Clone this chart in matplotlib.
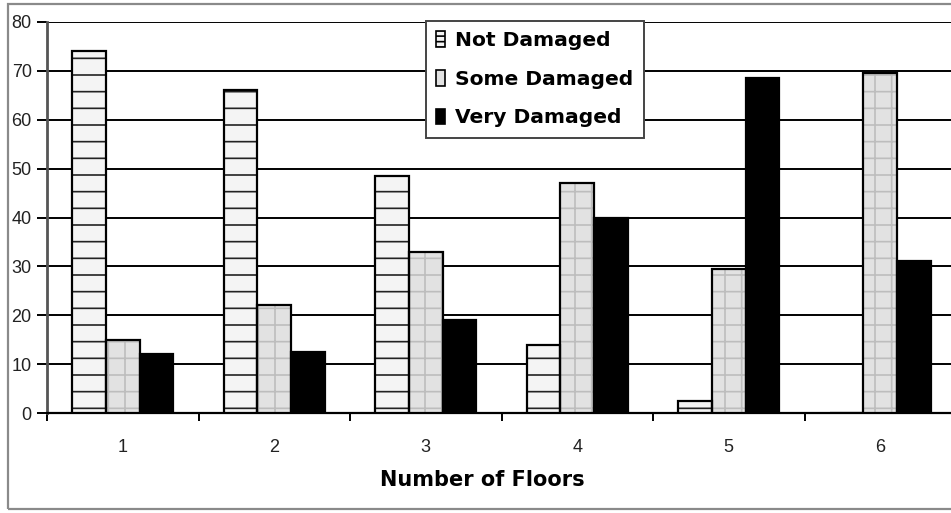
import numpy as np
import matplotlib
matplotlib.use("Agg")
import matplotlib.pyplot as plt
from matplotlib.patches import Rectangle, Patch

floors = ["1", "2", "3", "4", "5", "6"]
not_damaged = [74, 66, 48.5, 14, 2.5, 0]
some_damaged = [15, 22, 33, 47, 29.5, 69.5]
very_damaged = [12, 12.5, 19, 40, 68.5, 31]
y_ticks = [0, 10, 20, 30, 40, 50, 60, 70, 80]

plt.rcParams['font.family'] = ['Liberation Sans', 'DejaVu Sans']
plt.rcParams['hatch.linewidth'] = 1.2

fig = plt.figure(figsize=(9.51, 5.13), dpi=100)
fig.patch.set_facecolor('white')

# outer chart frame
fig.patches.append(Rectangle((8 / 951, 4 / 513), 1.2, 505 / 513, transform=fig.transFigure,
                             fill=False, edgecolor='#8a8a8a', linewidth=1.6, zorder=0))

ax = fig.add_axes([47 / 951, 100 / 513, 909 / 951, 391 / 513])
x = np.arange(1, len(floors) + 1)
w = 0.222

# hatched fills
ax.bar(x - w, not_damaged, w, facecolor='#f4f4f4', edgecolor='#222', hatch='-', linewidth=0, zorder=3)
ax.bar(x, some_damaged, w, facecolor='#e2e2e2', edgecolor='#bdbdbd', hatch='+', linewidth=0, zorder=3)
ax.bar(x + w, very_damaged, w, facecolor='black', edgecolor='black', linewidth=0, zorder=3)
# bar outlines
for offs, vals in ((-w, not_damaged), (0, some_damaged), (w, very_damaged)):
    ax.bar(x + offs, vals, w, fill=False, edgecolor='black', linewidth=1.6, zorder=4)

ax.set_xlim(0.5, len(floors) + 0.5)
ax.set_ylim(0, 80)
ax.set_yticks(y_ticks)
ax.set_yticklabels([str(t) for t in y_ticks], fontsize=13, color='#222')
ax.yaxis.grid(True, color='black', linewidth=1.4, zorder=1)
ax.set_axisbelow(True)

ax.set_xticks(x)
ax.set_xticklabels(floors, fontsize=13, color='#222')
ax.set_xticks(np.arange(0.5, len(floors) + 1), minor=True)
ax.tick_params(axis='x', which='major', length=0, pad=19)
ax.tick_params(axis='x', which='minor', length=6, width=1.4, direction='out', color='black')
ax.tick_params(axis='y', length=7, width=1.4, direction='out', pad=4, color='black')

for s in ('top', 'right'):
    ax.spines[s].set_visible(False)
ax.spines['left'].set_color('#555')
ax.spines['left'].set_linewidth(2)
ax.spines['bottom'].set_color('black')
ax.spines['bottom'].set_linewidth(1.6)

ax.set_xlabel("Number of Floors", fontsize=15, fontweight='bold', family='DejaVu Sans')
ax.xaxis.set_label_coords(0.4785, -0.145)

handles = [Patch(facecolor='#f4f4f4', edgecolor='black', hatch='---', linewidth=1.2),
           Patch(facecolor='#e2e2e2', edgecolor='black', linewidth=1.2),
           Patch(facecolor='black', edgecolor='black', linewidth=1.2)]
leg = fig.legend(handles, ["Not Damaged", "Some Damaged", "Very Damaged"],
                 loc='upper left', bbox_to_anchor=(426 / 951, 1 - 21 / 513),
                 prop={'family': 'DejaVu Sans', 'weight': 'bold', 'size': 14.6},
                 handlelength=0.45, handleheight=0.8, handletextpad=0.5,
                 labelspacing=0.97, borderpad=0.5, borderaxespad=0,
                 frameon=True, fancybox=False, framealpha=1)
leg.get_frame().set_edgecolor('#444')
leg.get_frame().set_linewidth(1.4)

fig.savefig("out.png", dpi=100)
